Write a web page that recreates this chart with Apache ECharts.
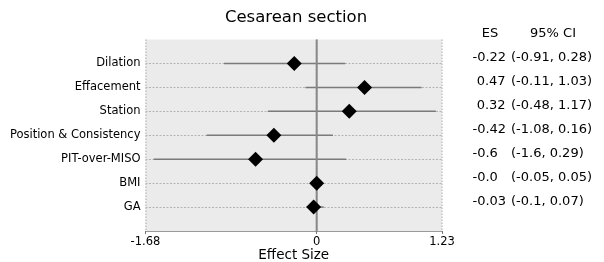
<!DOCTYPE html>
<html>
<head>
<meta charset="utf-8">
<script src="https://cdn.jsdelivr.net/npm/echarts@6/dist/echarts.min.js"></script>
<style>html,body{margin:0;padding:0;background:#fff}#c{width:604px;height:262px}</style>
</head>
<body>
<div id="c"></div>
<script>
const categories = ['Dilation', 'Effacement', 'Station', 'Position & Consistency', 'PIT-over-MISO', 'BMI', 'GA'];
const es = [-0.22, 0.47, 0.32, -0.42, -0.6, -0.0, -0.03];
const ciLow = [-0.91, -0.11, -0.48, -1.08, -1.6, -0.05, -0.1];
const ciHigh = [0.28, 1.03, 1.17, 0.16, 0.29, 0.05, 0.07];
const esLabels = ['-0.22', ' 0.47', ' 0.32', '-0.42', '-0.6', '-0.0', '-0.03'];
const ciLabels = ['(-0.91, 0.28)', '(-0.11, 1.03)', '(-0.48, 1.17)', '(-1.08, 0.16)', '(-1.6, 0.29)', '(-0.05, 0.05)', '(-0.1, 0.07)'];
const xMin = -1.68, xMax = 1.23;
const title = 'Cesarean section';
const xName = 'Effect Size';
const headers = ['ES', '95% CI'];

const n = categories.length;
const rowY = categories.map((_, i) => n - i);
const font = 'DejaVu Sans';

const chart = echarts.init(document.getElementById('c'), null, {renderer: 'canvas'});
const option = {
  animation: false,
  textStyle: {fontFamily: font},
  grid: {left: 145.5, right: 162, top: 39.5, bottom: 31, outerBoundsMode: 'none', containLabel: false,
    show: true, backgroundColor: '#ebebeb', borderWidth: 0},
  xAxis: {
    type: 'value', min: xMin, max: xMax, interval: 1.68,
    name: xName, nameLocation: 'middle', nameGap: 17, nameMoveOverlap: false,
    nameTextStyle: {fontFamily: font, fontSize: 13.5, color: '#000', verticalAlign: 'top'},
    axisLine: {show: true, lineStyle: {color: '#999', width: 1}},
    axisTick: {show: true, length: 3, lineStyle: {color: '#777'}},
    axisLabel: {fontFamily: font, fontSize: 11.5, color: '#000', margin: 5,
      formatter: v => (Math.abs(v) < 1e-9 ? '0' : String(+v.toFixed(2)))},
    splitLine: {show: true, lineStyle: {type: 'dotted', color: '#c4c4c4', width: 1.5}}
  },
  yAxis: {
    type: 'value', min: 0, max: n + 1, interval: 1,
    axisLine: {show: false}, axisTick: {show: false},
    axisLabel: {fontFamily: font, fontSize: 11.5, color: '#000', margin: 5,
      formatter: v => { const i = n - v; return (i >= 0 && i < n) ? categories[i] : ''; }},
    splitLine: {show: true, showMinLine: false, showMaxLine: false,
      lineStyle: {type: [2, 1.5], color: '#b4b4b4', width: 1}}
  },
  series: [
    {
      type: 'custom',
      data: categories.map((c, i) => [ciLow[i], ciHigh[i], rowY[i]]),
      encode: {x: [0, 1], y: 2},
      renderItem: (params, api) => {
        const a = api.coord([api.value(0), api.value(2)]);
        const b = api.coord([api.value(1), api.value(2)]);
        return {type: 'line', shape: {x1: a[0], y1: a[1], x2: b[0], y2: b[1]},
          style: {stroke: '#7a7a7a', lineWidth: 1.5}};
      },
      z: 3
    },
    {
      type: 'line', data: [[0, 0], [0, n + 1]], symbol: 'none',
      lineStyle: {color: '#888', width: 2}, z: 4, silent: true
    },
    {
      type: 'scatter', data: categories.map((c, i) => [es[i], rowY[i]]),
      symbol: 'diamond', symbolSize: [15, 15],
      itemStyle: {color: '#000', opacity: 1}, z: 5
    }
  ]
};
chart.setOption(option);

const headerY = 34;
const tf = '13px "DejaVu Sans"';
const elems = [
  {type: 'text', x: 296, y: 18, style: {text: title, font: '16.5px "DejaVu Sans"', fill: '#000', align: 'center', verticalAlign: 'middle'}},
  {type: 'text', x: 490, y: headerY, style: {text: headers[0], font: tf, fill: '#000', align: 'center', verticalAlign: 'middle'}},
  {type: 'text', x: 553, y: headerY, style: {text: headers[1], font: tf, fill: '#000', align: 'center', verticalAlign: 'middle'}}
];
categories.forEach((c, i) => {
  const py = chart.convertToPixel({yAxisIndex: 0}, rowY[i]) - 5.5;
  elems.push({type: 'text', x: 472.5, y: py, style: {text: esLabels[i], font: tf, fill: '#000', align: 'left', verticalAlign: 'middle'}});
  elems.push({type: 'text', x: 511, y: py, style: {text: ciLabels[i], font: tf, fill: '#000', align: 'left', verticalAlign: 'middle'}});
});
chart.setOption({graphic: {elements: elems}});
</script>
</body>
</html>
